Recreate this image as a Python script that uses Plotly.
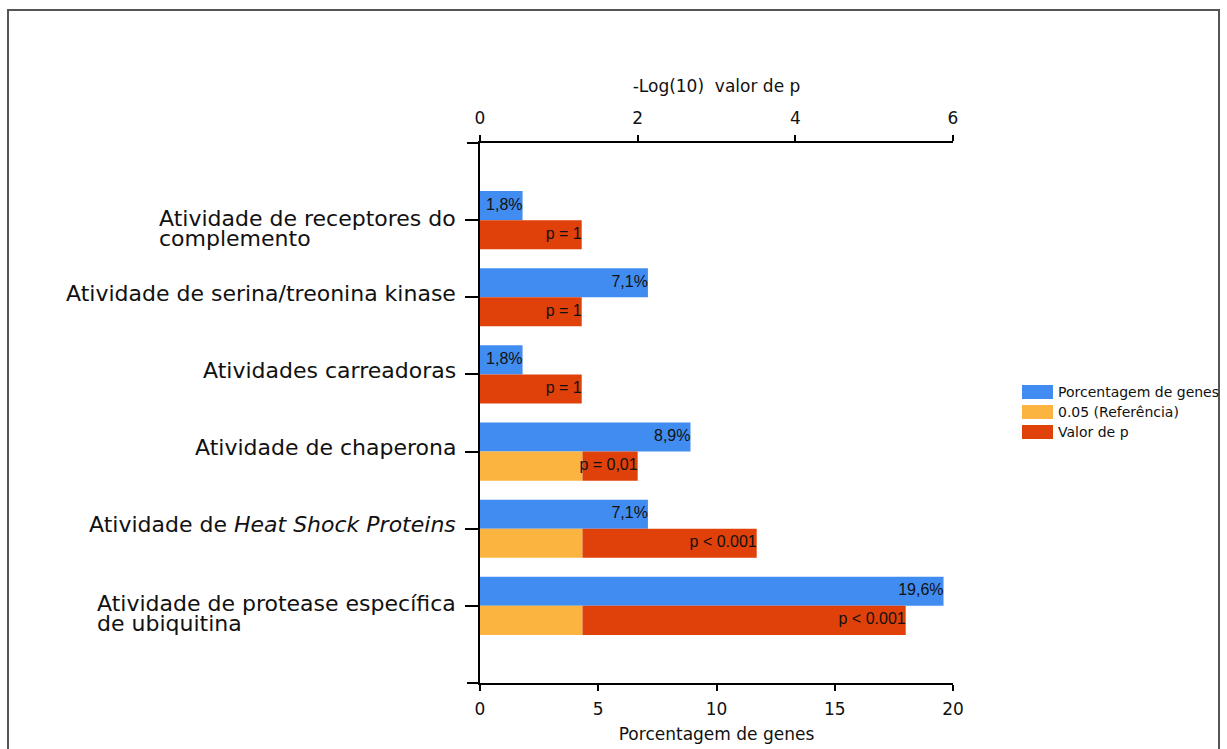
import plotly.graph_objects as go

# ---------------- data ----------------
categories = [
    ["Atividade de receptores do", "complemento"],
    ["Atividade de serina/treonina kinase"],
    ["Atividades carreadoras"],
    ["Atividade de chaperona"],
    ["Atividade de <i>Heat Shock Proteins</i>"],
    ["Atividade de protease específica", "de ubiquitina"],
]
pct_genes = [1.8, 7.1, 1.8, 8.9, 7.1, 19.6]           # bottom axis (%)
pct_labels = ["1,8%", "7,1%", "1,8%", "8,9%", "7,1%", "19,6%"]
ref_len = [0, 0, 0, 1.30, 1.30, 1.30]                 # -log10(0.05) reference, top axis
p_end = [1.29, 1.29, 1.29, 2.0, 3.51, 5.40]           # end of p-value bar, top axis
p_labels = ["p = 1", "p = 1", "p = 1", "p = 0,01", "p < 0.001", "p < 0.001"]
x_ticks = [0, 5, 10, 15, 20]
x2_ticks = [0, 2, 4, 6]

BLUE, ORANGE, RED = "#418CF0", "#FCB441", "#E0400A"
FONT = "DejaVu Sans"
LBLFONT = "Liberation Sans"

n = len(categories)
ypos = [n - 1 - i for i in range(n)]
BW = 0.377
p_len = [e - b for e, b in zip(p_end, ref_len)]

W, H = 1227, 749
L, R, T, B = 480, 274, 143, 66
pw, ph = W - L - R, H - T - B


def px(x):
    return (x - L) / pw


def py(y):
    return (H - B - y) / ph


fig = go.Figure()
fig.add_bar(y=ypos, x=pct_genes, orientation="h", xaxis="x", yaxis="y",
            width=BW, offset=0, marker=dict(color=BLUE, line=dict(width=0)),
            name="Porcentagem de genes", showlegend=False)
fig.add_bar(y=ypos, x=ref_len, orientation="h", xaxis="x2", yaxis="y",
            width=BW, offset=-BW, marker=dict(color=ORANGE, line=dict(width=0)),
            name="0.05 (Referência)", showlegend=False)
fig.add_bar(y=ypos, x=p_len, base=ref_len, orientation="h", xaxis="x2", yaxis="y",
            width=BW, offset=-BW, marker=dict(color=RED, line=dict(width=0)),
            name="Valor de p", showlegend=False)
fig.add_scatter(y=[v + BW / 2 for v in ypos], x=pct_genes, xaxis="x", yaxis="y",
                mode="text", text=pct_labels, textposition="middle left",
                textfont=dict(family=LBLFONT, size=16, color="#111111"),
                showlegend=False, hoverinfo="skip")
fig.add_scatter(y=[v - BW / 2 for v in ypos], x=p_end, xaxis="x2", yaxis="y",
                mode="text", text=p_labels, textposition="middle left",
                textfont=dict(family=LBLFONT, size=16, color="#111111"),
                showlegend=False, hoverinfo="skip")

annotations = []
for lines, yv in zip(categories, ypos):
    txt = "<br>".join(f'<span style="font-size:22px">{ln}</span>' for ln in lines)
    annotations.append(dict(
        text=txt, xref="paper", yref="y", x=px(458), y=yv, xanchor="right",
        yanchor="middle", align="left", showarrow=False,
        yshift=4 if len(lines) == 1 else -8,
        font=dict(family=FONT, size=15, color="#111111")))

# custom legend
legend_items = [("Porcentagem de genes", BLUE), ("0.05 (Referência)", ORANGE), ("Valor de p", RED)]
shapes = []
for k, (name, col) in enumerate(legend_items):
    y0 = 385 + 20 * k
    shapes.append(dict(type="rect", xref="paper", yref="paper",
                       x0=px(1022), x1=px(1053), y0=py(y0 + 14), y1=py(y0),
                       fillcolor=col, line=dict(width=0)))
    annotations.append(dict(text=name, xref="paper", yref="paper", x=px(1056), y=py(y0 + 7),
                            xanchor="left", yanchor="middle", showarrow=False,
                            font=dict(family=FONT, size=14, color="#111111")))

# frame and axis-line extensions
shapes.append(dict(type="rect", xref="paper", yref="paper",
                   x0=px(8), x1=px(1219), y0=py(770), y1=py(10),
                   line=dict(color="#555555", width=2), fillcolor="rgba(0,0,0,0)"))
for yy in (0, 1):
    shapes.append(dict(type="line", xref="paper", yref="paper",
                       x0=px(467), x1=0, y0=yy, y1=yy, line=dict(color="black", width=2)))

axis_common = dict(showgrid=False, zeroline=False, showline=True, linecolor="black",
                   linewidth=2, ticks="outside", ticklen=6, tickwidth=2, tickcolor="black",
                   automargin=False,
                   tickfont=dict(family=FONT, size=17, color="#111111"))

fig.update_layout(
    width=W, height=H, autosize=False,
    margin=dict(l=L, r=R, t=T, b=B, pad=0),
    paper_bgcolor="white", plot_bgcolor="white",
    barmode="overlay", showlegend=False,
    xaxis=dict(range=[0, 20], tickvals=x_ticks, ticklabelstandoff=4,
               title=dict(text="Porcentagem de genes", standoff=10,
                          font=dict(family=FONT, size=17, color="#111111")),
               **axis_common),
    xaxis2=dict(range=[0, 6], tickvals=x2_ticks, overlaying="x", side="top",
                anchor="y", ticklabelstandoff=4,
                title=dict(text="-Log(10)\u00a0\u00a0valor de p", standoff=11,
                           font=dict(family=FONT, size=17, color="#111111")),
                **axis_common),
    yaxis=dict(range=[-1, n], tickvals=ypos, showticklabels=False, showgrid=False,
               zeroline=False, showline=True, linecolor="black", linewidth=2,
               automargin=False,
               ticks="outside", ticklen=13, tickwidth=2, tickcolor="black"),
    annotations=annotations,
    shapes=shapes,
)

fig.write_html("out.html")
